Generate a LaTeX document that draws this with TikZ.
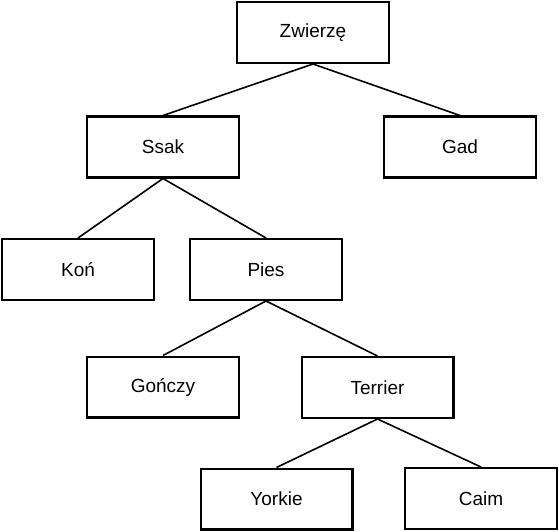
\documentclass[tikz,border=0pt]{standalone}
\usepackage{fontspec}
\setmainfont{Liberation Sans}
\usepackage{tikz}
\usetikzlibrary{positioning}

\begin{document}
\begin{tikzpicture}[
            x = 1pt, y = -1pt, % one unit per pixel, y downwards
            box/.style = {draw, line width=2.4pt, minimum width=151.6pt,
                          minimum height=60.6pt, inner sep=0pt,
                          font=\fontsize{19}{23}\selectfont}, % class boxes
            link/.style = {line width=1.6pt} % tree lines
        ]

	\useasboundingbox (0,0) rectangle (559,532);

	\node[box] (Zwierze) at (313,32.5) {Zwierzę};
	\node[box] (Ssak) at (163,147) {Ssak};
	\node[box] (Gad) at (460,147) {Gad};
	\node[box] (Kon) at (78,269.5) {Koń};
	\node[box] (Pies) at (266,269.5) {Pies};
	\node[box] (Gonczy) at (163,387) {Gończy};
	\node[box] (Terrier) at (377.5,387.5) {Terrier};
	\node[box] (Yorkie) at (276.5,499) {Yorkie};
	\node[box] (Caim) at (481,498.5) {Caim};

	\draw[link] (Zwierze.south) edge (Ssak.north) edge (Gad.north);
	\draw[link] (Ssak.south) edge (Kon.north) edge (Pies.north);
	\draw[link] (Pies.south) edge (Gonczy.north) edge (Terrier.north);
	\draw[link] (Terrier.south) edge (Yorkie.north) edge (Caim.north);

\end{tikzpicture}
\end{document}
